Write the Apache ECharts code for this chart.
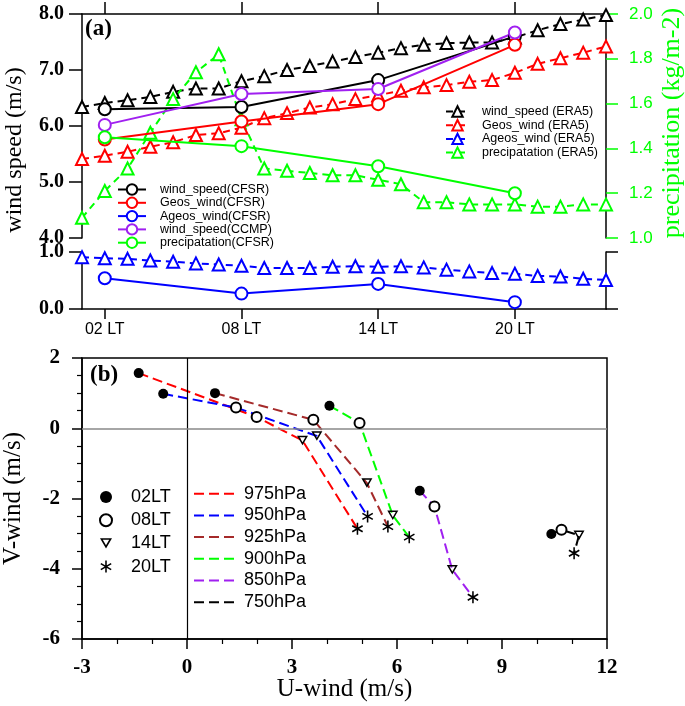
<!DOCTYPE html>
<html><head><meta charset="utf-8">
<script src="https://cdn.jsdelivr.net/npm/echarts@6/dist/echarts.min.js"></script>
<style>html,body{margin:0;padding:0;background:#fff}#c{width:685px;height:706px}</style>
</head><body><div id="c"></div>
<script>
// ---------- Panel (a) data ----------
const hoursERA5 = [1,2,3,4,5,6,7,8,9,10,11,12,13,14,15,16,17,18,19,20,21,22,23,24];
const wsERA5     = [6.34,6.41,6.46,6.52,6.61,6.67,6.67,6.80,6.89,7.00,7.07,7.15,7.23,7.31,7.39,7.45,7.48,7.49,7.49,7.58,7.71,7.82,7.90,7.98];
const geosERA5   = [5.41,5.47,5.54,5.63,5.71,5.84,5.87,5.97,6.14,6.23,6.33,6.39,6.48,6.55,6.63,6.69,6.73,6.79,6.82,6.95,7.11,7.21,7.31,7.42];
const ageosERA5  = [0.91,0.89,0.88,0.85,0.83,0.80,0.78,0.76,0.72,0.72,0.72,0.74,0.75,0.74,0.75,0.73,0.69,0.66,0.63,0.62,0.58,0.57,0.53,0.51];
const precipERA5 = [1.09,1.21,1.31,1.47,1.62,1.74,1.82,1.53,1.31,1.30,1.29,1.28,1.28,1.26,1.24,1.16,1.16,1.15,1.15,1.15,1.14,1.14,1.15,1.15];

const hoursCFSR  = [2,8,14,20];
const wsCFSR     = [6.30,6.34,6.82,7.60];
const geosCFSR   = [5.76,6.08,6.39,7.45];
const ageosCFSR  = [0.54,0.27,0.44,0.12];
const wsCCMP     = [6.02,6.57,6.66,7.67];
const precipCFSR = [1.45,1.41,1.32,1.20];

const tickHours  = [2,8,14,20];
const tickLabels = ['02 LT','08 LT','14 LT','20 LT'];

// ---------- Panel (b) data ----------
const levels     = ['975hPa','950hPa','925hPa','900hPa','850hPa','750hPa'];
const timeLabels = ['02LT','08LT','14LT','20LT'];
const uWind = [
  [-1.38, 1.99, 3.30, 4.87],
  [-0.68, 1.40, 3.71, 5.16],
  [ 0.80, 3.61, 5.14, 5.74],
  [ 4.07, 4.93, 5.88, 6.35],
  [ 6.65, 7.07, 7.58, 8.17],
  [10.41,10.70,11.20,11.06]
];
const vWind = [
  [ 1.57, 0.32,-0.35,-2.86],
  [ 0.98, 0.59,-0.22,-2.51],
  [ 1.00, 0.24,-1.56,-2.80],
  [ 0.64, 0.15,-2.48,-3.10],
  [-1.78,-2.23,-4.03,-4.81],
  [-3.01,-2.89,-3.05,-3.56]
];

// ---------- styles ----------
const GREEN = '#00ff00', PURPLE = '#a020f0', BROWN = '#a52a2a';
const levelColors = ['#ff0000','#0000ff',BROWN,GREEN,PURPLE,'#000000'];
const SERIF = '"Liberation Serif","Times New Roman",serif';
const SANS = '"Liberation Sans",Arial,sans-serif';

const asteriskPath = (function(){
  let d='';
  [0,60,120].forEach(function(a){
    const r=a*Math.PI/180, dx=Math.sin(r), dy=-Math.cos(r), px=Math.cos(r), py=Math.sin(r), L=10, W=1.3;
    const pts=[[L*dx+W*px,L*dy+W*py],[L*dx-W*px,L*dy-W*py],[-L*dx-W*px,-L*dy-W*py],[-L*dx+W*px,-L*dy+W*py]];
    d+='M'+pts.map(p=>p[0].toFixed(2)+','+p[1].toFixed(2)).join('L')+'Z';
  });
  return 'path://'+d;
})();
// hollow downward triangle (outer ring, inner hole with reversed winding)
const downTriPath = 'path://M0,0L20,0L10,17.32ZM4.68,2.70L10,11.92L15.32,2.70Z';
const timeSymbols = ['circle','emptyCircle',downTriPath,asteriskPath];
const timeSizes = [10,10,11,12];

function era5(name, vals, color, xi, yi){
  return {name, type:'line', xAxisIndex:xi, yAxisIndex:yi,
    data: hoursERA5.map((h,k)=>[h, vals[k]]),
    symbol:'emptyTriangle', symbolSize:12, z:3,
    lineStyle:{color, width:2, type:[7,5]}, itemStyle:{color, borderWidth:2}};
}
function cfsr(name, vals, color, xi, yi){
  return {name, type:'line', xAxisIndex:xi, yAxisIndex:yi,
    data: hoursCFSR.map((h,k)=>[h, vals[k]]),
    symbol:'emptyCircle', symbolSize:12, z:4,
    lineStyle:{color, width:2, type:'solid'}, itemStyle:{color, borderWidth:2}};
}

const axLine = {show:true, onZero:false, lineStyle:{color:'#000', width:1.5}};
const noSplit = {show:false};

const series = [
  era5('wind_speed (ERA5)', wsERA5, '#000', 0, 0),
  era5('Geos_wind (ERA5)', geosERA5, '#ff0000', 0, 0),
  era5('Ageos_wind (ERA5)', ageosERA5, '#0000ff', 1, 2),
  era5('precipatation (ERA5)', precipERA5, GREEN, 0, 1),
  cfsr('wind_speed(CFSR)', wsCFSR, '#000', 0, 0),
  cfsr('Geos_wind(CFSR)', geosCFSR, '#ff0000', 0, 0),
  cfsr('Ageos_wind(CFSR)', ageosCFSR, '#0000ff', 1, 2),
  cfsr('wind_speed(CCMP)', wsCCMP, PURPLE, 0, 0),
  cfsr('precipatation(CFSR)', precipCFSR, GREEN, 0, 1),
  {name:'zero', type:'line', xAxisIndex:2, yAxisIndex:4, data:[[0,0]], symbol:'none',
   lineStyle:{opacity:0}, z:1,
   markLine:{silent:true, symbol:['none','none'], label:{show:false}, animation:false,
     data:[{xAxis:0, lineStyle:{color:'#000', width:1.2, type:'solid'}},
           {yAxis:0, lineStyle:{color:'#888', width:1.5, type:'solid'}}]}}
];
levels.forEach(function(name,i){
  series.push({name, type:'line', xAxisIndex:2, yAxisIndex:4,
    data: uWind[i].map((u,j)=>[u, vWind[i][j]]), symbol:'none', z:3,
    lineStyle:{color:levelColors[i], width:2, type:[10,5]}, itemStyle:{color:levelColors[i]}});
});
timeLabels.forEach(function(t,j){
  series.push({name:t, type:'scatter', xAxisIndex:2, yAxisIndex:4,
    data: levels.map((_,i)=>[uWind[i][j], vWind[i][j]]),
    symbol:timeSymbols[j], symbolSize:timeSizes[j], symbolKeepAspect:true, z:5,
    itemStyle:{color:'#000', borderWidth:1.5, opacity:1}});
});

const option = {
  animation:false,
  backgroundColor:'#fff',
  grid:[
    {left:82, top:14, width:524, height:224, outerBoundsMode:'none'},
    {left:82, top:252, width:524, height:57, outerBoundsMode:'none'},
    {left:82, top:358, width:525, height:281, outerBoundsMode:'none', show:true, borderColor:'#000', borderWidth:1.5, backgroundColor:'transparent'}
  ],
  xAxis:[
    {gridIndex:0, type:'value', min:1, max:24, position:'top', axisLine:axLine,
     axisTick:{show:true, customValues:tickHours, length:12, lineStyle:{color:'#000', width:1.5}},
     axisLabel:{show:false}, splitLine:noSplit},
    {gridIndex:1, type:'value', min:1, max:24, position:'bottom', axisLine:axLine,
     axisTick:{show:true, customValues:tickHours, length:10, lineStyle:{color:'#000', width:1.5}},
     axisLabel:{show:true, customValues:tickHours, formatter:function(v){return tickLabels[tickHours.indexOf(v)];},
       margin:13, fontFamily:SANS, fontSize:16, color:'#000'}, splitLine:noSplit},
    {gridIndex:2, type:'value', min:-3, max:12, interval:3, position:'bottom', axisLine:axLine,
     axisTick:{show:true, length:10, lineStyle:{color:'#000', width:1.5}},
     minorTick:{show:true, splitNumber:3, length:5, lineStyle:{color:'#000', width:1.2}},
     axisLabel:{margin:18, fontFamily:SERIF, fontWeight:'bold', fontSize:21, color:'#000'},
     splitLine:noSplit, minorSplitLine:{show:false},
     name:'U-wind (m/s)', nameLocation:'middle', nameGap:38, nameMoveOverlap:false,
     nameTextStyle:{fontFamily:SERIF, fontSize:25, color:'#000'}}
  ],
  yAxis:[
    {gridIndex:0, type:'value', min:4, max:8, interval:1, position:'left', axisLine:axLine,
     axisTick:{show:true, length:13, lineStyle:{color:'#000', width:1.5}},
     axisLabel:{margin:18, formatter:v=>v.toFixed(1), fontFamily:SERIF, fontWeight:'bold', fontSize:20, color:'#000'},
     splitLine:noSplit},
    {gridIndex:0, type:'value', min:1, max:2, interval:0.2, position:'right', axisLine:axLine,
     axisTick:{show:true, length:12, lineStyle:{color:GREEN, width:1.5}},
     axisLabel:{margin:23, formatter:v=>v.toFixed(1), fontFamily:SANS, fontSize:17, color:GREEN},
     splitLine:noSplit},
    {gridIndex:1, type:'value', min:0, max:1, interval:1, position:'left', axisLine:axLine,
     axisTick:{show:true, length:13, lineStyle:{color:'#000', width:1.5}},
     axisLabel:{margin:18, formatter:v=>v.toFixed(1), fontFamily:SERIF, fontWeight:'bold', fontSize:20, color:'#000'},
     splitLine:noSplit},
    {gridIndex:1, type:'value', min:0, max:1, interval:1, position:'right', axisLine:axLine,
     axisTick:{show:true, length:12, lineStyle:{color:'#000', width:1.5}},
     axisLabel:{show:false}, splitLine:noSplit},
    {gridIndex:2, type:'value', min:-6, max:2, interval:2, position:'left', axisLine:axLine,
     axisTick:{show:true, length:10, lineStyle:{color:'#000', width:1.5}},
     minorTick:{show:true, splitNumber:4, length:5, lineStyle:{color:'#000', width:1.2}},
     axisLabel:{margin:22, fontFamily:SERIF, fontWeight:'bold', fontSize:21, color:'#000'},
     splitLine:noSplit, minorSplitLine:{show:false},
     name:'V-wind (m/s)', nameLocation:'middle', nameGap:56, nameRotate:90, nameMoveOverlap:false,
     nameTextStyle:{fontFamily:SERIF, fontSize:25, color:'#000'}}
  ],
  legend:[
    {data:['wind_speed(CFSR)','Geos_wind(CFSR)','Ageos_wind(CFSR)','wind_speed(CCMP)','precipatation(CFSR)'],
     orient:'vertical', left:117, top:183, padding:0, itemWidth:28, itemHeight:13, itemGap:0.3, selectedMode:false,
     textStyle:{fontFamily:SANS, fontSize:12.5, color:'#000', padding:[0,0,0,9]}},
    {data:['wind_speed (ERA5)','Geos_wind (ERA5)','Ageos_wind (ERA5)','precipatation (ERA5)'],
     orient:'vertical', left:445, top:105, padding:0, itemWidth:23, itemHeight:13, itemGap:0.7, selectedMode:false,
     textStyle:{fontFamily:SANS, fontSize:12.5, color:'#000', padding:[0,0,0,8]}},
    {data:timeLabels, orient:'vertical', left:99, top:488, padding:0, itemWidth:12, itemHeight:12, itemGap:5.2, selectedMode:false,
     itemStyle:{opacity:1},
     textStyle:{fontFamily:SANS, fontSize:18, lineHeight:12, color:'#000', padding:[0,0,0,14]}},
    {data:levels, orient:'vertical', left:193, top:484.7, padding:0, itemWidth:45, itemHeight:14, itemGap:3.7, selectedMode:false,
     itemStyle:{opacity:0},
     textStyle:{fontFamily:SANS, fontSize:18, lineHeight:14, color:'#000'}}
  ],
  graphic:[
    {type:'text', left:85, top:18, style:{text:'(a)', font:'bold 23px '+SERIF, fill:'#000'}},
    {type:'text', left:90, top:364, style:{text:'(b)', font:'bold 23px '+SERIF, fill:'#000'}},
    {type:'text', x:15, y:150, rotation:Math.PI/2, style:{text:'wind speed (m/s)', font:'24px '+SERIF, fill:'#000', align:'center', verticalAlign:'middle'}},
    {type:'text', x:672, y:123, rotation:Math.PI/2, style:{text:'precipitation (kg/m-2)', font:'26px '+SERIF, fill:GREEN, align:'center', verticalAlign:'middle'}}
  ],
  series
};
const chart = echarts.init(document.getElementById('c'), null, {renderer:'canvas'});
chart.setOption(option);
</script>
</body></html>
